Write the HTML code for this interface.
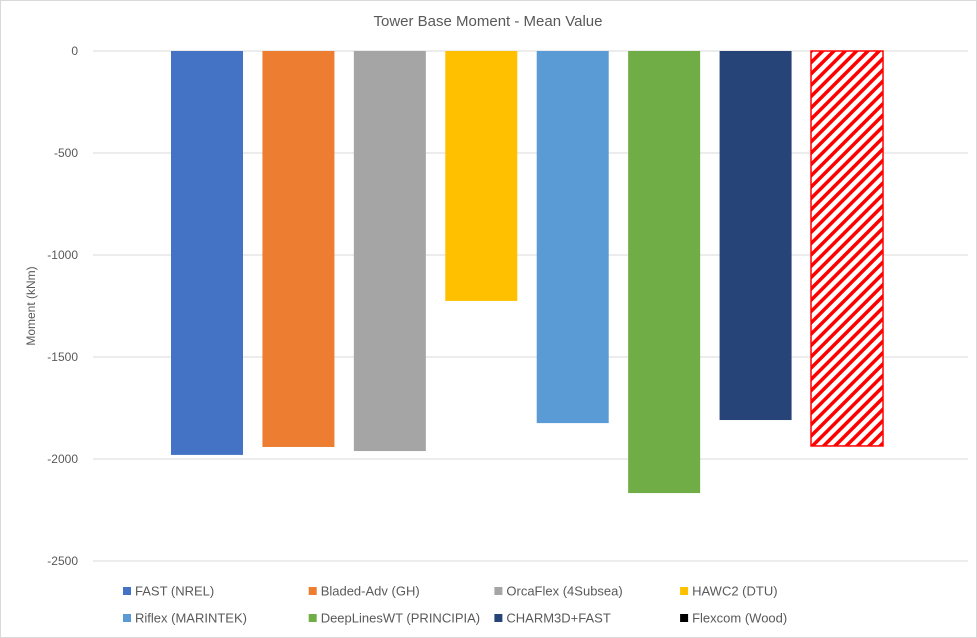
<!DOCTYPE html>
<html><head><meta charset="utf-8"><style>
body{margin:0;background:#fff;}
svg{display:block;font-family:"Liberation Sans",sans-serif;}
</style></head><body>
<svg id="c" width="977" height="638">
<defs><pattern id="hatch" patternUnits="userSpaceOnUse" width="8" height="8" patternTransform="rotate(45)">
<rect width="8" height="8" fill="#fff"/><rect width="3.5" height="8" fill="#ff0000"/></pattern></defs>
<rect x="0.5" y="0.5" width="976" height="637" fill="#fff" stroke="#d9d9d9"/>
<text x="488" y="26" text-anchor="middle" font-size="15" fill="#595959">Tower Base Moment - Mean Value</text>
<text transform="translate(35,306) rotate(-90)" text-anchor="middle" font-size="12" fill="#595959">Moment (kNm)</text>
<g id="grid"></g><g id="bars"></g><g id="legend"></g>
</svg>
<script>
const categories=["FAST (NREL)","Bladed-Adv (GH)","OrcaFlex (4Subsea)","HAWC2 (DTU)","Riflex (MARINTEK)","DeepLinesWT (PRINCIPIA)","CHARM3D+FAST","Flexcom (Wood)"];
const values=[-1980,-1941,-1961,-1225,-1824,-2167,-1809,-1936];
const colors=["#4472c4","#ed7d31","#a5a5a5","#ffc000","#5b9bd5","#70ad47","#264478","url(#hatch)"];
const legendColors=["#4472c4","#ed7d31","#a5a5a5","#ffc000","#5b9bd5","#70ad47","#264478","#000000"];
const ticks=[0,-500,-1000,-1500,-2000,-2500];
const NS="http://www.w3.org/2000/svg";
const y=v=>51-v*0.204;
const xc=i=>207+i*91.43;
function mk(t,a,p){const e=document.createElementNS(NS,t);for(const k in a)e.setAttribute(k,a[k]);p.appendChild(e);return e;}
const g=document.getElementById('grid');
ticks.forEach(t=>{
 const l=mk('line',{x1:93,x2:968,y1:y(t),y2:y(t),stroke:'#d9d9d9','stroke-width':1},g);
 
 
 const tx=mk('text',{x:78,y:y(t)+4,'text-anchor':'end','font-size':12,fill:'#595959'},g);
 tx.textContent=t;
 
 
});
const b=document.getElementById('bars');
values.forEach((v,i)=>{
 const hatched=colors[i].startsWith('url');
 const r=mk('rect',{x:xc(i)-36,y:y(0),width:72,height:y(v)-y(0),fill:colors[i]},b);
 if(hatched){r.setAttribute('stroke','#ff0000');r.setAttribute('stroke-width','1.5');}
 
 
});
const lg=document.getElementById('legend');
categories.forEach((c,i)=>{
 const lx=123+(i%4)*185.7, ly=587+Math.floor(i/4)*27;
 const s=mk('rect',{x:lx,y:ly,width:8,height:8,fill:legendColors[i]},lg);
 
 
 const t=mk('text',{x:lx+12,y:ly+8.5,'font-size':13,fill:'#595959'},lg);
 t.textContent=c;
 
 
});
</script>
</body></html>
